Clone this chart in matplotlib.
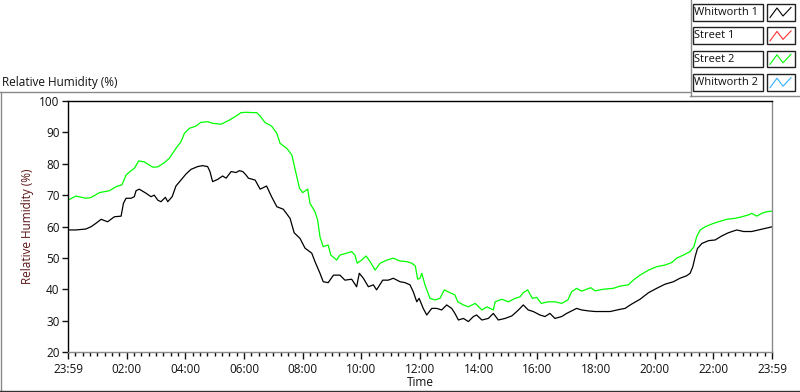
import matplotlib
matplotlib.use("Agg")
import matplotlib.pyplot as plt
from matplotlib.patches import Rectangle
from matplotlib.lines import Line2D

# ---------------- data (hours after 23:59 start, %RH) ----------------
street2_t = [0, 0.27, 0.61, 0.78, 1.07, 1.41, 1.64, 1.84, 1.98, 2.15, 2.26, 2.41, 2.60, 2.89,
             3.06, 3.28, 3.45, 3.68, 3.85, 3.97, 4.14, 4.36, 4.53, 4.76, 4.93, 5.22, 5.50,
             5.73, 5.90, 6.07, 6.30, 6.43, 6.55, 6.72, 6.94, 7.12, 7.23, 7.46, 7.63, 7.71,
             7.80, 7.89, 8.00, 8.17, 8.25, 8.42, 8.51, 8.59, 8.70, 8.87, 8.96, 9.16, 9.27,
             9.50, 9.67, 9.78, 9.86, 10.01, 10.16, 10.30, 10.47, 10.64, 10.87, 11.09, 11.32,
             11.55, 11.72, 11.84, 11.92, 12.00, 12.06, 12.17, 12.34, 12.51, 12.68, 12.83,
             13.02, 13.19, 13.29, 13.48, 13.65, 13.88, 14.11, 14.28, 14.50, 14.56, 14.79,
             15.02, 15.24, 15.41, 15.52, 15.67, 15.83, 15.98, 16.13, 16.38, 16.60, 16.83,
             17.04, 17.17, 17.34, 17.51, 17.68, 17.82, 17.97, 18.25, 18.59, 18.82, 19.10,
             19.27, 19.50, 19.79, 20.07, 20.35, 20.58, 20.75, 20.98, 21.21, 21.34, 21.43,
             21.55, 21.72, 21.95, 22.17, 22.46, 22.74, 22.97, 23.20, 23.31, 23.48, 23.65,
             23.82, 24.0]
street2_v = [68.4, 69.7, 69.0, 69.2, 70.8, 71.4, 72.7, 73.3, 76.4, 77.8, 78.5, 80.9, 80.6, 78.9,
             79.0, 80.3, 81.7, 84.9, 87.0, 89.7, 91.3, 92.0, 93.2, 93.4, 92.9, 92.6, 93.9,
             95.2, 96.3, 96.4, 96.3, 96.3, 95.2, 93.1, 92.0, 89.7, 86.5, 84.9, 82.8, 79.6,
             75.9, 72.2, 70.8, 71.9, 67.4, 64.7, 62.1, 56.7, 53.6, 54.1, 50.9, 49.3, 50.9,
             51.5, 52.0, 50.9, 48.3, 49.3, 50.6, 48.8, 46.1, 48.3, 49.3, 49.9, 49.0,
             48.8, 48.3, 47.4, 43.2, 43.5, 45.1, 41.4, 37.1, 36.6, 37.1, 39.8,
             38.9, 38.2, 36.0, 35.0, 34.4, 35.5, 33.4, 34.4, 33.4, 36.0, 36.8,
             36.0, 37.1, 37.6, 38.9, 39.8, 37.1, 37.4, 35.5, 36.0, 36.0, 35.5,
             36.6, 39.2, 40.3, 39.4, 40.0, 40.5, 39.5, 40.0, 40.3, 41.0, 41.4,
             42.9, 44.5, 46.1, 47.2, 47.7, 48.5, 49.9, 50.9, 52.0, 53.6, 56.7,
             58.9, 59.9, 60.8, 61.5, 62.3, 62.6, 63.1, 63.7, 64.2, 63.3, 64.2,
             64.7, 64.9]

whitworth1_t = [0.02, 0.27, 0.61, 0.78, 0.95, 1.13, 1.35, 1.58, 1.81, 1.89, 1.98, 2.15, 2.26,
                2.32, 2.43, 2.66, 2.83, 2.94, 3.06, 3.17, 3.32, 3.40, 3.55, 3.68, 3.85, 4.02,
                4.19, 4.42, 4.59, 4.76, 4.84, 4.93, 5.10, 5.27, 5.39, 5.56, 5.73, 5.84, 5.96,
                6.07, 6.15, 6.38, 6.55, 6.77, 6.94, 7.12, 7.34, 7.57, 7.71, 7.91, 8.08, 8.31,
                8.42, 8.59, 8.70, 8.87, 9.05, 9.27, 9.44, 9.67, 9.84, 9.93, 10.07, 10.24,
                10.41, 10.52, 10.73, 10.92, 11.09, 11.32, 11.49, 11.66, 11.77, 11.83, 11.89,
                11.97, 12.11, 12.23, 12.40, 12.57, 12.74, 12.91, 13.08, 13.19, 13.31, 13.48,
                13.65, 13.82, 13.93, 14.11, 14.33, 14.50, 14.67, 14.90, 15.13, 15.30, 15.41,
                15.52, 15.69, 15.86, 16.09, 16.26, 16.43, 16.60, 16.83, 17.00, 17.17, 17.34,
                17.51, 17.74, 17.97, 18.25, 18.48, 18.82, 18.99, 19.22, 19.50, 19.79, 20.07,
                20.35, 20.64, 20.86, 21.09, 21.21, 21.30, 21.38, 21.46, 21.61, 21.84, 22.06,
                22.29, 22.51, 22.80, 23.03, 23.31, 23.54, 23.76, 24.0]
whitworth1_v = [58.9, 58.9, 59.2, 59.9, 61.0, 62.3, 61.5, 63.1, 63.3, 67.4, 69.0, 69.0, 69.5,
                71.4, 71.9, 70.6, 69.5, 70.0, 68.4, 67.9, 69.3, 67.9, 69.5, 72.9, 74.8, 76.7,
                78.2, 79.1, 79.4, 79.1, 77.5, 74.3, 75.0, 76.1, 75.4, 77.5, 77.2, 77.8, 77.5,
                76.4, 75.4, 74.8, 71.9, 72.9, 69.5, 66.3, 65.5, 62.6, 58.0, 56.2, 53.1, 51.5,
                48.8, 45.1, 42.4, 42.1, 44.5, 44.5, 42.9, 43.2, 40.8, 45.1, 43.5, 40.8,
                41.4, 39.8, 42.9, 42.9, 43.5, 42.4, 42.1, 41.4, 39.2, 37.6, 36.0,
                37.1, 33.9, 31.8, 33.9, 33.9, 33.4, 35.0, 33.9, 32.3, 30.2, 30.7,
                29.7, 31.3, 31.8, 30.2, 30.7, 32.3, 30.2, 30.7, 31.5, 32.9, 33.9,
                35.0, 33.4, 32.9, 31.8, 31.3, 32.3, 30.7, 31.3, 32.3, 33.1, 33.9,
                33.4, 33.1, 32.9, 32.9, 32.9, 33.6, 33.9, 35.3, 36.8, 38.9, 40.3,
                41.6, 42.4, 43.5, 44.3, 45.1, 47.2, 50.4, 53.0, 54.6, 55.5, 55.7,
                57.0, 58.0, 58.9, 58.4, 58.4, 58.9, 59.4, 59.9]

legend_names = ["Whitworth 1", "Street 1", "Street 2", "Whitworth 2"]
legend_colors = ["#000000", "#ff3030", "#00ff00", "#30b0ff"]

x_tick_pos = [0, 2, 4, 6, 8, 10, 12, 14, 16, 18, 20, 22, 24]
x_tick_labels = ["23:59", "02:00", "04:00", "06:00", "08:00", "10:00", "12:00",
                 "14:00", "16:00", "18:00", "20:00", "22:00", "23:59"]
y_ticks = [20, 30, 40, 50, 60, 70, 80, 90, 100]

# ---------------- figure ----------------
W, H = 800, 392
plt.rcParams['font.family'] = ['Open Sans', 'DejaVu Sans']
fig = plt.figure(figsize=(W / 100, H / 100), dpi=100)
fig.patch.set_facecolor("white")

ax = fig.add_axes([68 / W, 1 - 352 / H, (772 - 68) / W, (352 - 101) / H])
ax.plot(street2_t, street2_v, color="#00ff00", lw=0.9)
ax.plot(whitworth1_t, whitworth1_v, color="#000000", lw=0.9)

ax.set_xlim(0, 24)
ax.set_ylim(20, 100)
ax.set_xticks(x_tick_pos)
ax.set_xticklabels(x_tick_labels)
ax.set_xticks([i * 0.25 for i in range(97)], minor=True)
ax.set_yticks(y_ticks)
ax.tick_params(axis="both", which="major", direction="out", length=4, width=1,
               labelsize=8.5, colors="#111111", pad=2)
ax.tick_params(axis="x", which="major", length=5, pad=3)
ax.tick_params(axis="x", which="minor", direction="out", length=3, width=1, colors="#111111")
ax.tick_params(axis="y", which="minor", left=False)
for s in ["top", "left"]:
    ax.spines[s].set_color("black")
    ax.spines[s].set_linewidth(1.0)
for s in ["right", "bottom"]:
    ax.spines[s].set_color("#8a8a8a")
    ax.spines[s].set_linewidth(1.0)
ax.set_xlabel("Time", fontsize=8.5, color="#111111", labelpad=0)
ax.set_ylabel("Relative Humidity (%)", fontsize=8.5, color="#5a1515", labelpad=4)

# ---------------- overlay for frame and legend ----------------
ov = fig.add_axes([0, 0, 1, 1], zorder=-1)
ov.set_xlim(0, W)
ov.set_ylim(H, 0)
ov.axis("off")
ov.text(2, 82, "Relative Humidity (%)", fontsize=8.5, color="#111111", va="center", ha="left")
ov.add_line(Line2D([0, 690], [91.5, 91.5], color="#8a8a8a", lw=1))
ov.add_line(Line2D([0.5, 0.5], [91.5, 392], color="#8a8a8a", lw=1))
ov.add_line(Line2D([0, 800], [390.5, 390.5], color="#333333", lw=1))
ov.add_line(Line2D([690.5, 690.5], [0, 96], color="#8a8a8a", lw=1))
ov.add_line(Line2D([690, 800], [95.5, 95.5], color="#8a8a8a", lw=1))

ov2 = fig.add_axes([0, 0, 1, 1], zorder=5)
ov2.set_xlim(0, W)
ov2.set_ylim(H, 0)
ov2.axis("off")
for i, (name, col) in enumerate(zip(legend_names, legend_colors)):
    y0 = 4 + i * 23.4
    ov2.add_patch(Rectangle((692.5, y0), 70, 16.5, fill=False, ec="#222222", lw=1))
    ov2.text(694.5, y0 + 8.5, name, fontsize=8, color="#111111", va="center", ha="left")
    ov2.add_patch(Rectangle((767, y0), 28, 16.5, fill=False, ec="#222222", lw=1))
    zx = [770, 777, 783, 791]
    zy = [y0 + 13.5, y0 + 4, y0 + 12, y0 + 3.5]
    ov2.add_line(Line2D(zx, zy, color=col, lw=0.8))

fig.savefig("out.png", dpi=100)
